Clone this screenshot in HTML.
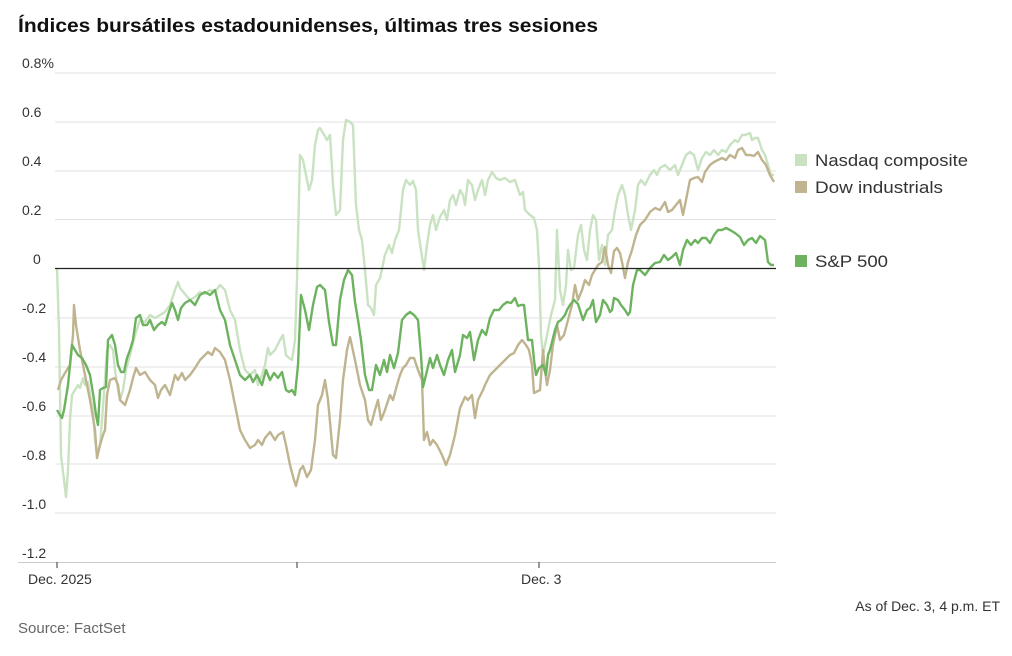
<!DOCTYPE html>
<html><head><meta charset="utf-8"><style>
body{margin:0;background:#fff;width:1012px;height:651px;overflow:hidden;font-family:"Liberation Sans",sans-serif}
</style></head><body>
<svg width="1012" height="651" xmlns="http://www.w3.org/2000/svg" font-family="Liberation Sans, sans-serif">
<text x="18" y="32" font-size="19.5" font-weight="bold" fill="#111" textLength="580" lengthAdjust="spacingAndGlyphs">Índices bursátiles estadounidenses, últimas tres sesiones</text>
<g stroke="#e0e0e0" stroke-width="1">
<line x1="55" x2="776" y1="73" y2="73"/><line x1="55" x2="776" y1="122" y2="122"/><line x1="55" x2="776" y1="171" y2="171"/><line x1="55" x2="776" y1="219.5" y2="219.5"/><line x1="55" x2="776" y1="318" y2="318"/><line x1="55" x2="776" y1="367" y2="367"/><line x1="55" x2="776" y1="416" y2="416"/><line x1="55" x2="776" y1="464" y2="464"/><line x1="55" x2="776" y1="513" y2="513"/>
</g>
<line x1="18" x2="776" y1="562.5" y2="562.5" stroke="#ccc"/>
<g stroke="#333" stroke-width="1"><line x1="57" x2="57" y1="562" y2="568"/><line x1="297" x2="297" y1="562" y2="568"/><line x1="539" x2="539" y1="562" y2="568"/></g>
<g font-size="14" fill="#333">
<text x="22" y="68">0.8%</text><text x="22" y="117">0.6</text><text x="22" y="166">0.4</text><text x="22" y="215">0.2</text><text x="33" y="264">0</text><text x="22" y="313">-0.2</text><text x="22" y="362">-0.4</text><text x="22" y="411">-0.6</text><text x="22" y="460">-0.8</text><text x="22" y="509">-1.0</text><text x="22" y="558">-1.2</text>
<text x="28" y="584">Dec. 2025</text><text x="521" y="584">Dec. 3</text>
<text x="1000" y="611" text-anchor="end">As of Dec. 3, 4 p.m. ET</text>
<text x="18" y="633" font-size="15" fill="#666">Source: FactSet</text>
</g>
<g fill="none" stroke-width="2.4" stroke-linejoin="round">
<polyline stroke="#c9e2c2" points="57,268 59,330 61,455 64,480 66,497 68,470 70,420 72,395 75,390 78,385 80,388 83,378 85,385 88,382 90,395 93,410 95,440 97,455 100,445 102,420 105,380 107,350 110,345 113,350 115,370 118,390 120,400 123,390 126,370 130,355 135,335 140,320 145,322 150,315 155,318 160,315 165,312 170,305 175,290 178,282 180,288 185,294 190,300 195,297 200,292 205,294 210,290 215,292 220,285 225,290 230,310 235,320 240,350 245,370 250,375 255,370 258,385 262,375 265,365 268,348 270,355 275,350 280,340 283,335 286,355 289,358 292,360 295,340 297,280 300,155 303,160 306,175 309,190 312,180 315,145 318,130 320,128 323,133 327,140 330,135 333,185 336,215 340,210 343,140 346,120 350,122 353,125 356,205 359,230 362,240 365,270 368,305 371,308 374,315 376,285 380,278 385,255 389,245 392,253 395,240 399,230 403,190 406,180 410,185 413,181 416,190 418,230 421,250 424,270 427,245 430,225 433,215 436,230 440,217 444,210 447,220 450,200 453,195 456,205 460,190 463,195 465,205 468,180 472,185 475,200 478,190 482,180 485,195 488,180 492,172 496,178 500,180 505,178 510,182 515,180 520,195 523,192 525,210 530,215 534,218 537,230 539,265 541,335 543,355 545,345 548,330 551,315 555,300 557,230 560,290 563,305 566,285 568,250 571,270 574,268 578,235 581,225 584,250 587,260 590,230 593,215 596,220 599,260 602,245 605,265 608,235 612,230 615,210 618,195 622,185 625,195 628,215 631,230 635,210 638,185 641,180 645,185 650,175 654,170 657,175 660,168 665,165 670,170 675,165 678,175 682,165 686,155 690,152 694,155 698,170 702,158 706,152 710,155 714,150 718,155 722,150 726,152 730,145 735,140 738,142 742,135 745,135 750,133 752,140 755,138 758,138 762,150 765,155 768,165 771,175 774,175"/>
<polyline stroke="#bfb48f" points="58,390 61,380 65,373 70,365 73,335 74,305 76,325 80,350 85,375 90,400 95,430 97,458 100,445 103,435 105,430 107,395 110,380 115,378 118,385 120,400 125,405 130,390 133,378 136,368 140,375 145,372 150,380 155,385 158,398 161,390 165,385 170,395 175,375 178,380 182,373 185,380 190,375 195,368 200,360 205,355 208,352 212,355 215,348 220,352 225,360 230,380 235,405 240,430 245,440 250,448 255,445 258,440 262,445 265,438 270,432 275,440 278,435 283,432 286,445 290,465 294,480 296,486 300,470 303,466 307,477 311,470 315,440 318,405 322,395 325,380 328,400 333,455 336,458 340,420 343,380 347,350 350,337 355,360 360,385 365,400 368,420 371,425 375,410 378,400 381,420 385,410 390,395 393,400 397,385 400,375 403,368 406,365 410,358 414,358 418,370 422,380 424,440 427,432 430,445 433,440 437,445 442,455 446,465 450,455 455,435 460,408 465,397 468,400 472,395 475,418 478,400 483,390 485,385 490,375 495,370 500,365 505,360 510,355 514,353 518,345 522,340 526,345 529,350 532,365 534,393 536,392 540,390 543,350 545,370 547,385 550,370 553,345 557,325 560,340 564,335 568,320 572,305 575,285 578,300 582,290 585,280 589,285 592,275 595,270 598,265 602,262 605,247 608,265 611,273 614,251 617,248 620,253 622,262 625,278 628,262 632,250 636,235 640,225 645,220 650,212 655,208 660,210 665,202 668,212 672,210 676,205 680,200 683,215 686,200 690,180 694,178 698,177 702,182 705,172 710,165 714,162 718,160 722,158 726,160 730,155 735,158 738,150 742,148 746,155 750,155 754,156 758,152 762,160 766,165 770,175 774,182"/>
<polyline stroke="#6db35f" points="57,410 60,415 62,418 64,410 68,385 72,345 75,350 78,355 82,358 86,365 90,375 94,400 96,415 98,425 100,390 103,388 106,387 108,340 112,335 115,345 118,365 121,372 124,372 127,358 130,350 133,340 136,318 140,315 143,325 147,325 150,320 154,330 158,325 162,322 165,325 168,315 172,303 175,310 178,320 181,308 185,303 190,300 195,305 200,295 205,292 210,295 215,290 220,310 225,320 230,345 235,360 240,375 245,380 250,375 253,382 257,375 262,385 266,370 270,380 274,373 278,378 282,372 286,390 289,392 292,390 295,395 298,365 301,295 305,310 309,330 313,305 317,287 320,285 325,290 329,322 333,345 336,345 340,300 344,280 348,270 352,275 355,302 358,320 361,340 365,375 369,390 372,390 376,365 380,375 384,360 387,372 390,355 394,368 398,353 402,320 406,315 410,312 414,315 418,320 421,355 423,387 426,375 430,358 433,368 437,355 440,365 444,375 448,360 452,350 455,372 460,355 463,335 467,338 470,332 474,360 478,340 482,330 486,335 490,318 494,310 499,310 503,305 507,302 511,303 515,298 518,306 521,305 524,305 528,340 532,340 534,360 536,375 539,368 543,365 546,375 548,355 550,350 555,330 558,322 561,320 565,315 567,310 570,305 574,300 578,304 583,320 587,310 590,308 593,300 596,322 600,315 603,300 607,305 610,312 612,310 614,298 618,300 621,305 625,310 628,315 630,312 633,285 637,270 640,270 645,275 650,268 655,263 660,262 664,255 668,260 672,257 676,253 680,265 683,250 687,240 691,245 695,240 698,243 702,238 706,238 710,243 714,235 718,230 722,230 726,228 730,230 735,233 740,237 744,245 748,240 752,238 756,243 760,236 765,240 768,262 771,265 774,265"/>
</g>
<line x1="55" x2="776" y1="268.5" y2="268.5" stroke="#222" stroke-width="1.2"/>
<g font-size="17" fill="#333">
<rect x="795" y="154" width="12" height="12" fill="#c9e2c2"/><text x="815" y="166" textLength="153" lengthAdjust="spacingAndGlyphs">Nasdaq composite</text>
<rect x="795" y="181" width="12" height="12" fill="#bfb48f"/><text x="815" y="193" textLength="128" lengthAdjust="spacingAndGlyphs">Dow industrials</text>
<rect x="795" y="255" width="12" height="12" fill="#6db35f"/><text x="815" y="267" textLength="73" lengthAdjust="spacingAndGlyphs">S&amp;P 500</text>
</g>
</svg>
</body></html>
